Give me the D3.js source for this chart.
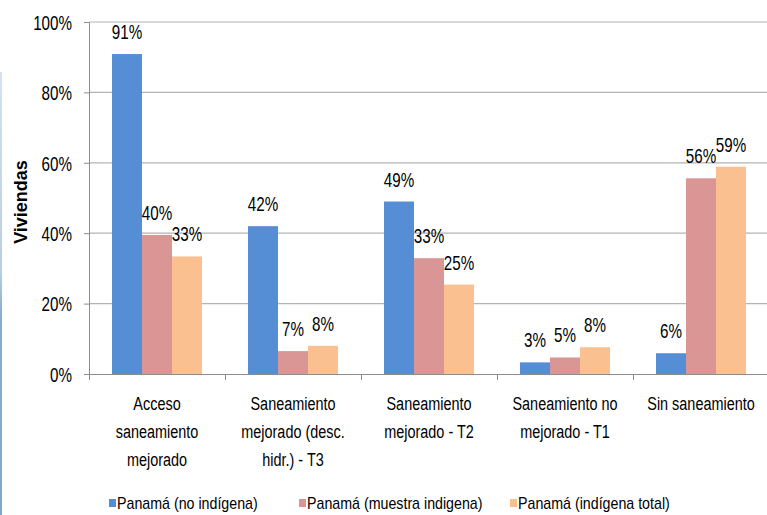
<!DOCTYPE html>
<html lang="es">
<head>
  <meta charset="UTF-8">
  <title>Saneamiento - Viviendas</title>
  <script src="https://d3js.org/d3.v7.min.js"></script>
  <style>
    body { margin: 0; background: #fff; }
    svg { display: block; }
    text { font-family: "Liberation Sans", Arial, sans-serif; fill: #000; }
  </style>
</head>
<body>
  <svg id="chart" width="767" height="515"></svg>

  <script>
    // categories (split in lines as on the picture)
    const categories = [
      ["Acceso", "saneamiento", "mejorado"],
      ["Saneamiento", "mejorado (desc.", "hidr.) - T3"],
      ["Saneamiento", "mejorado - T2"],
      ["Saneamiento no", "mejorado - T1"],
      ["Sin saneamiento"]
    ];
    const seriesNames = ["Panamá (no indígena)", "Panamá (muestra indigena)", "Panamá (indígena total)"];
    const noIndigena      = [0.909, 0.42, 0.49, 0.033, 0.059];
    const muestraIndigena = [0.395, 0.065, 0.329, 0.047, 0.556];
    const indigenaTotal   = [0.334, 0.08, 0.254, 0.076, 0.589];
    const yTicks = [0, 0.2, 0.4, 0.6, 0.8, 1];
    const colors = ["#558ed5", "#d99694", "#fac090"];

    const NARROW = 0.76; // horizontal squeeze to mimic a narrow face
    const pct = d3.format('.0%');

    const svg = d3.select('#chart');
    const margin = { left: 89, top: 22, right: -2, bottom: 141 };
    const width = 767 - margin.left - margin.right;
    const height = 515 - margin.top - margin.bottom;

    // narrow text helper
    function narrowText(parent, x, y, size, sx, anchor) {
      return parent.append('g')
        .attr('transform', `translate(${x},${y}) scale(${sx},1)`)
        .append('text')
          .attr('text-anchor', anchor || 'middle')
          .style('font-size', size + 'px');
    }

    // left decorative strip
    const defs = svg.append('defs');
    const grad = defs.append('linearGradient').attr('id', 'strip')
      .attr('x1', 0).attr('x2', 0).attr('y1', 0).attr('y2', 1);
    grad.append('stop').attr('offset', '0%').attr('stop-color', '#d3e2ee');
    grad.append('stop').attr('offset', '45%').attr('stop-color', '#b7cfe3');
    grad.append('stop').attr('offset', '55%').attr('stop-color', '#86add0');
    grad.append('stop').attr('offset', '100%').attr('stop-color', '#7ea8cd');
    svg.append('rect').attr('x', 0).attr('y', 72).attr('width', 2).attr('height', 443)
      .attr('fill', 'url(#strip)');

    const g = svg.append('g').attr('transform', `translate(${margin.left},${margin.top})`);

    const x0 = d3.scaleBand().domain(d3.range(categories.length)).range([0, width]);
    const x1 = d3.scaleBand().domain(d3.range(3)).range([23, x0.bandwidth() - 23]);
    const y = d3.scaleLinear().domain([0, 1]).range([height, 0]);

    // gridlines
    g.selectAll('.grid').data(yTicks.filter(d => d > 0)).enter().append('line')
      .attr('x1', 0).attr('x2', width)
      .attr('y1', d => y(d)).attr('y2', d => y(d))
      .attr('stroke', '#b3b3b3').attr('stroke-width', 1.2);

    // y axis
    const yAxis = d3.axisLeft(y).tickValues(yTicks).tickFormat(pct).tickSize(5);
    const ya = g.append('g').call(yAxis);
    ya.select('.domain').attr('stroke', '#8c8c8c').attr('d', `M-5,${height + 0.5}H0.5V0.5H-5`);
    ya.selectAll('.tick line').attr('stroke', '#8c8c8c');
    ya.selectAll('.tick text')
      .attr('x', -17 / NARROW).attr('dy', '0.36em')
      .attr('transform', `scale(${NARROW},1)`)
      .attr('fill', '#000')
      .style('font-family', '"Liberation Sans", Arial, sans-serif')
      .style('font-size', '20px');

    // bars + data labels
    const series = [noIndigena, muestraIndigena, indigenaTotal];
    series.forEach((vals, s) => {
      g.selectAll('.bar-' + s).data(vals).enter().append('rect')
        .attr('class', 'bar-' + s)
        .attr('x', (d, i) => x0(i) + x1(s))
        .attr('y', d => y(d))
        .attr('width', x1.bandwidth())
        .attr('height', d => height - y(d))
        .attr('fill', colors[s]);
      vals.forEach((d, i) => {
        narrowText(g, x0(i) + x1(s) + x1.bandwidth() / 2, y(d) - 15, 20, NARROW).text(pct(d));
      });
    });

    // x axis line + ticks
    g.append('line').attr('x1', 0).attr('x2', width).attr('y1', height + 0.5).attr('y2', height + 0.5)
      .attr('stroke', '#8c8c8c');
    g.selectAll('.xtick').data(d3.range(categories.length + 1)).enter().append('line')
      .attr('x1', i => i * x0.bandwidth() + 0.5).attr('x2', i => i * x0.bandwidth() + 0.5)
      .attr('y1', height).attr('y2', height + 6)
      .attr('stroke', '#8c8c8c');

    // category labels
    categories.forEach((lines, i) => {
      const t = narrowText(g, x0(i) + x0.bandwidth() / 2, height + 36, 19, NARROW);
      lines.forEach((ln, k) => {
        t.append('tspan').attr('x', 0).attr('dy', k === 0 ? 0 : 28).text(ln);
      });
    });

    // y title
    svg.append('text')
      .attr('transform', 'translate(27,202) rotate(-90)')
      .attr('text-anchor', 'middle')
      .style('font-weight', 'bold').style('font-size', '18px')
      .text('Viviendas');

    // legend
    const legendX = [109, 299, 510];
    seriesNames.forEach((name, s) => {
      svg.append('rect').attr('x', legendX[s]).attr('y', 499).attr('width', 7).attr('height', 8).attr('fill', colors[s]);
      narrowText(svg, legendX[s] + 8, 509, 16, 0.89, 'start').attr('fill', '#222').text(name);
    });
  </script>
</body>
</html>
